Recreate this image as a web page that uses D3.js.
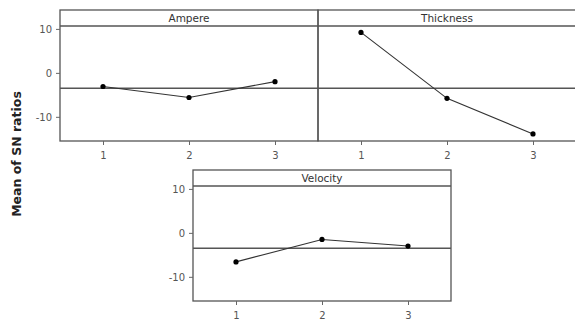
<!DOCTYPE html>
<html><head><meta charset="utf-8">
<script src="https://cdn.jsdelivr.net/npm/d3@7"></script>
<style>body{margin:0;background:#fff}svg{display:block}</style>
</head><body>
<svg id="c" width="575" height="320"></svg>
<script>
const levels = [1, 2, 3];
const factors = ["Ampere", "Thickness", "Velocity"];
const ampere = [-3.1, -5.6, -2.0];
const thickness = [9.2, -5.8, -13.9];
const velocity = [-6.6, -1.5, -3.0];
const grandMean = -3.5;
const yTicks = [10, 0, -10];
const yLabel = "Mean of SN ratios";

const series = [ampere, thickness, velocity];
const panels = [
  {x: 60, y: 10, w: 258, h: 131, yAxis: true},
  {x: 318, y: 10, w: 258, h: 131, yAxis: false},
  {x: 193, y: 170, w: 258, h: 131, yAxis: true}
];
const svg = d3.select("#c");
const font = "Tahoma, 'DejaVu Sans', Verdana, sans-serif";

panels.forEach((p, i) => {
  const g = svg.append("g").attr("transform", `translate(${p.x},${p.y})`);
  const x = d3.scaleLinear().domain([0.5, 3.5]).range([0, p.w]);
  const y = d3.scaleLinear().domain([14.3, -15.5]).range([0, p.h]);
  g.append("rect").attr("x", 0).attr("y", 0).attr("width", p.w).attr("height", p.h)
    .attr("fill", "none").attr("stroke", "#555").attr("stroke-width", 1.3);
  g.append("line").attr("x1", 0).attr("x2", p.w).attr("y1", 16).attr("y2", 16)
    .attr("stroke", "#555").attr("stroke-width", 1.3);
  g.append("text").attr("x", p.w / 2).attr("y", 12).attr("text-anchor", "middle")
    .attr("font-family", font).attr("font-size", 10.5).attr("fill", "#333").text(factors[i]);
  g.append("line").attr("x1", 0).attr("x2", p.w).attr("y1", y(grandMean)).attr("y2", y(grandMean))
    .attr("stroke", "#555").attr("stroke-width", 1.3);
  const xa = g.append("g").attr("transform", `translate(0,${p.h})`)
    .call(d3.axisBottom(x).tickValues(levels).tickSize(4).tickPadding(7).tickFormat(d => String(d)));
  xa.select(".domain").remove();
  xa.selectAll("line").attr("stroke", "#666");
  xa.selectAll("text").attr("font-family", font).attr("font-size", 10).attr("fill", "#555");
  if (p.yAxis) {
    const ya = g.append("g").call(d3.axisLeft(y).tickValues(yTicks).tickSize(4).tickPadding(4).tickFormat(d => String(d)));
    ya.select(".domain").remove();
    ya.selectAll("line").attr("stroke", "#666");
    ya.selectAll("text").attr("font-family", font).attr("font-size", 10).attr("fill", "#555");
  }
  const data = levels.map((l, k) => [l, series[i][k]]);
  g.append("path").datum(data)
    .attr("d", d3.line().x(d => x(d[0])).y(d => y(d[1])))
    .attr("fill", "none").attr("stroke", "#333").attr("stroke-width", 1.1);
  g.selectAll("circle").data(data).enter().append("circle")
    .attr("cx", d => x(d[0])).attr("cy", d => y(d[1])).attr("r", 2.6).attr("fill", "#000");
});

svg.append("text").attr("transform", "translate(21,154) rotate(-90)")
  .attr("text-anchor", "middle").attr("font-family", "'DejaVu Sans', Verdana, sans-serif")
  .attr("font-weight", "bold").attr("font-size", 12.5).attr("fill", "#222").text(yLabel);
</script>
</body></html>
